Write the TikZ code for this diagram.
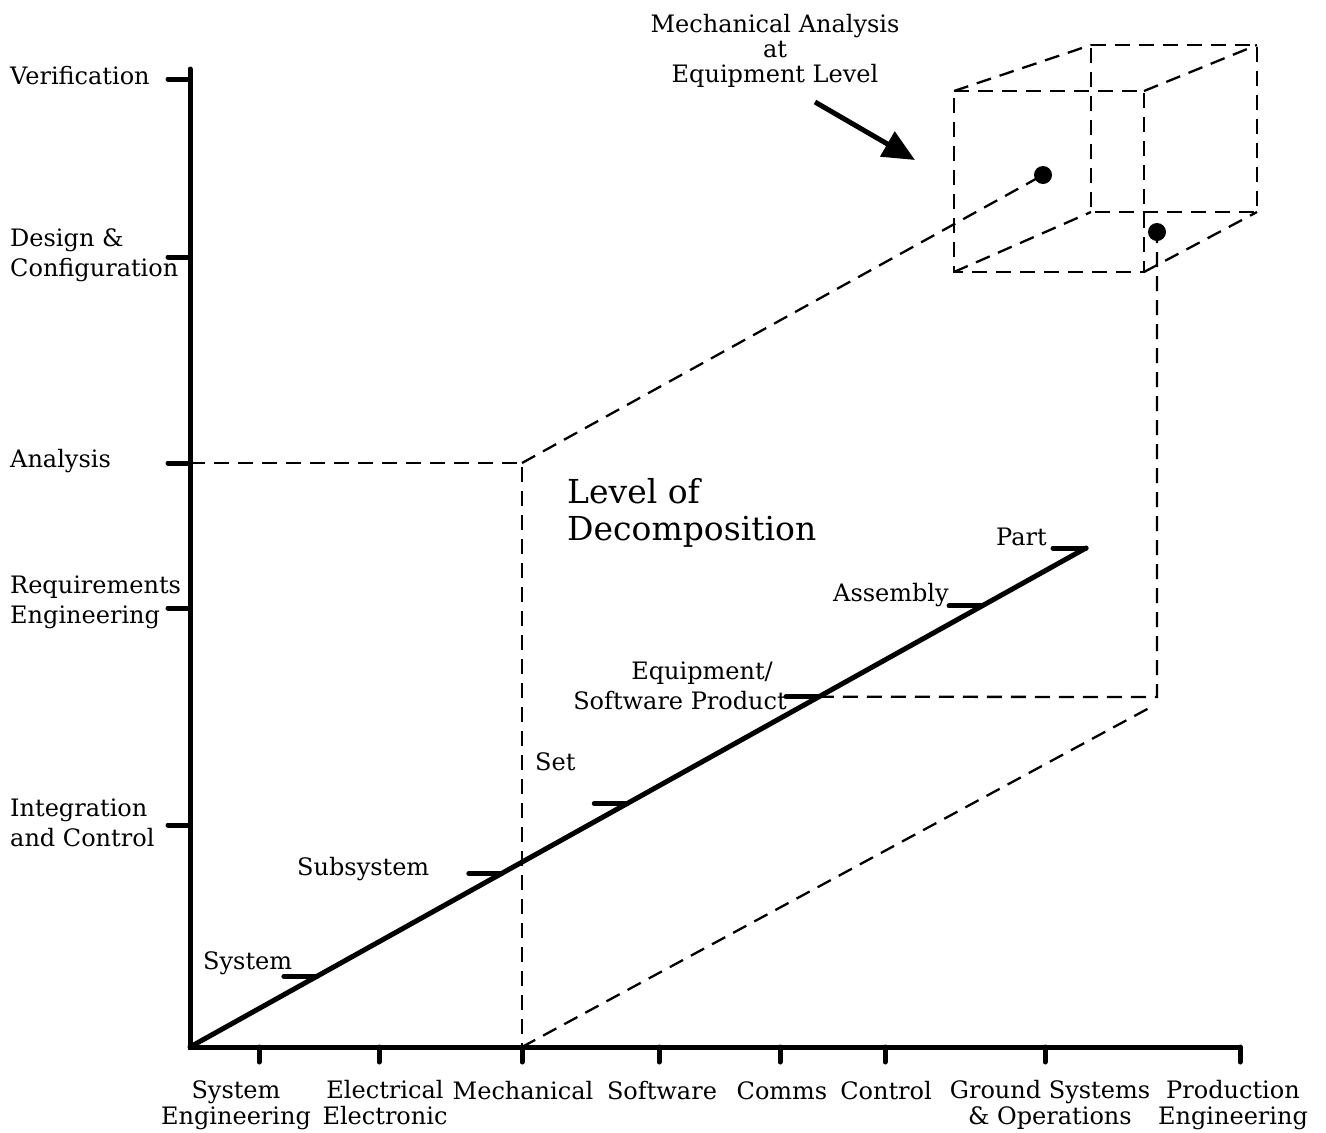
\documentclass[tikz,border=0pt]{standalone}
\usepackage{fontspec}
\setmainfont{DejaVu Serif}
\usetikzlibrary{arrows.meta,calc}

\begin{document}
\begin{tikzpicture}[x=1pt,y=-1pt,
  axis/.style={line width=5pt,line cap=round},
  tickmark/.style={line width=5pt,line cap=round},
  guide/.style={line width=2.3pt,dash pattern=on 15pt off 9pt},
  lbl/.style={inner sep=0pt,font=\fontsize{24}{28}\selectfont},
  lbltwo/.style={inner sep=0pt,align=left,font=\fontsize{24}{30}\selectfont},
  lblbot/.style={inner sep=0pt,align=center,font=\fontsize{24}{26}\selectfont},
  bigtitle/.style={inner sep=0pt,align=left,font=\fontsize{33}{37}\selectfont},
  dot/.style={fill=black}
]
\useasboundingbox (0,0) rectangle (1326,1133);

% ---- axes ----
\coordinate (O) at (190,1047);
\coordinate (Ytop) at (190,69);
\coordinate (Xend) at (1240,1047);
\draw[axis] (Ytop) -- (O) -- (Xend);

% vertical axis ticks (pointing left)
\foreach \name/\yy in {verif/79,design/257,analysis/463,req/608,integ/825}{
  \coordinate (yt-\name) at (190,\yy);
  \draw[tickmark] (yt-\name) -- ++(-22,0);
}

% horizontal axis ticks (pointing down)
\foreach \name/\xx in {syseng/259,elec/379,mech/522,soft/659,comms/780,ctrl/885,ground/1045,prod/1240}{
  \coordinate (xt-\name) at (\xx,1047);
  \draw[tickmark] (xt-\name) -- ++(0,15);
}

% ---- level of decomposition line ----
\coordinate (Ptop) at (1086,548);
\draw[axis] (O) -- (Ptop);
\foreach \name/\t in {system/0.1416,subsys/0.348,set/0.488,equip/0.702,assy/0.884,part/1.0}{
  \coordinate (d-\name) at ($(O)!\t!(Ptop)$);
  \draw[tickmark] (d-\name) -- ++(-33,0);
}

% ---- projection guides ----
\coordinate (A1) at (522,463);
\coordinate (cornerB) at (1157,697);
\coordinate (farB) at (1151,707);
\coordinate (dotA) at (1043,175);
\coordinate (dotB) at (1157,232);
\draw[guide] (yt-analysis) -- (A1) -- (xt-mech);
\draw[guide] (A1) -- (dotA);
\draw[guide] (xt-mech) -- (farB);
\draw[guide] (d-equip) -- (cornerB) -- (dotB);

% ---- cube ----
\coordinate (fTL) at (954,91);
\coordinate (fTR) at (1144,91);
\coordinate (fBR) at (1144,272);
\coordinate (fBL) at (954,272);
\coordinate (bTL) at (1091,45);
\coordinate (bTR) at (1257,45);
\coordinate (bBR) at (1257,212);
\coordinate (bBL) at (1091,212);
\draw[guide] (fTL) -- (fTR) -- (fBR) -- (fBL) -- cycle;
\draw[guide] (bTL) -- (bTR) -- (bBR) -- (bBL) -- cycle;
\draw[guide] (fTL) -- (bTL);
\draw[guide] (fTR) -- (bTR);
\draw[guide] (fBR) -- (bBR);
\draw[guide] (fBL) -- (bBL);

\fill[dot] (dotA) circle[radius=9];
\fill[dot] (dotB) circle[radius=9];

% ---- callout ----
\node[lblbot,anchor=north,font=\fontsize{24}{25}\selectfont] (callout) at (775,14)
  {Mechanical Analysis\\at\\Equipment Level};
\coordinate (arrS) at (815,102);
\coordinate (arrE) at (915,160);
\draw[line width=5pt,-{Triangle[length=32pt,width=28pt]}] (arrS) -- (arrE);

% ---- vertical axis labels ----
\node[lbl,anchor=base west] (lVerif) at (10,84) {Verification};
\node[lbltwo,anchor=north west] (lDesign) at (10,228) {Design \&\\Configuration};
\node[lbl,anchor=base west] (lAnalysis) at (10,467) {Analysis};
\node[lbltwo,anchor=north west] (lReq) at (10,576) {Requirements\\Engineering};
\node[lbltwo,anchor=north west] (lInteg) at (10,799) {Integration\\and Control};

% ---- horizontal axis labels ----
\node[lblbot,anchor=north] (bSys) at (236,1080) {System\\Engineering};
\node[lblbot,anchor=north] (bElec) at (385,1080) {Electrical\\Electronic};
\node[lbl,anchor=base] (bMech) at (523,1099) {Mechanical};
\node[lbl,anchor=base] (bSoft) at (662,1099) {Software};
\node[lbl,anchor=base] (bComms) at (782,1099) {Comms};
\node[lbl,anchor=base] (bCtrl) at (886,1099) {Control};
\node[lblbot,anchor=north] (bGround) at (1050,1080) {Ground Systems\\\& Operations};
\node[lblbot,anchor=north] (bProd) at (1233,1080) {Production\\Engineering};

% ---- decomposition labels ----
\node[lbl,anchor=base west] (tSystem) at (203,969) {System};
\node[lbl,anchor=base west] (tSubsys) at (297,875) {Subsystem};
\node[lbl,anchor=base west] (tSet) at (535,770) {Set};
\node[lbltwo,align=right,anchor=north east] (tEquip) at (787,662)
  {Equipment/\hspace*{14pt}\\Software Product};
\node[lbl,anchor=base west] (tAssy) at (833,601) {Assembly};
\node[lbl,anchor=base west] (tPart) at (996,545) {Part};
\node[bigtitle,anchor=north west] (title) at (567,478) {Level of\\Decomposition};
\end{tikzpicture}
\end{document}
